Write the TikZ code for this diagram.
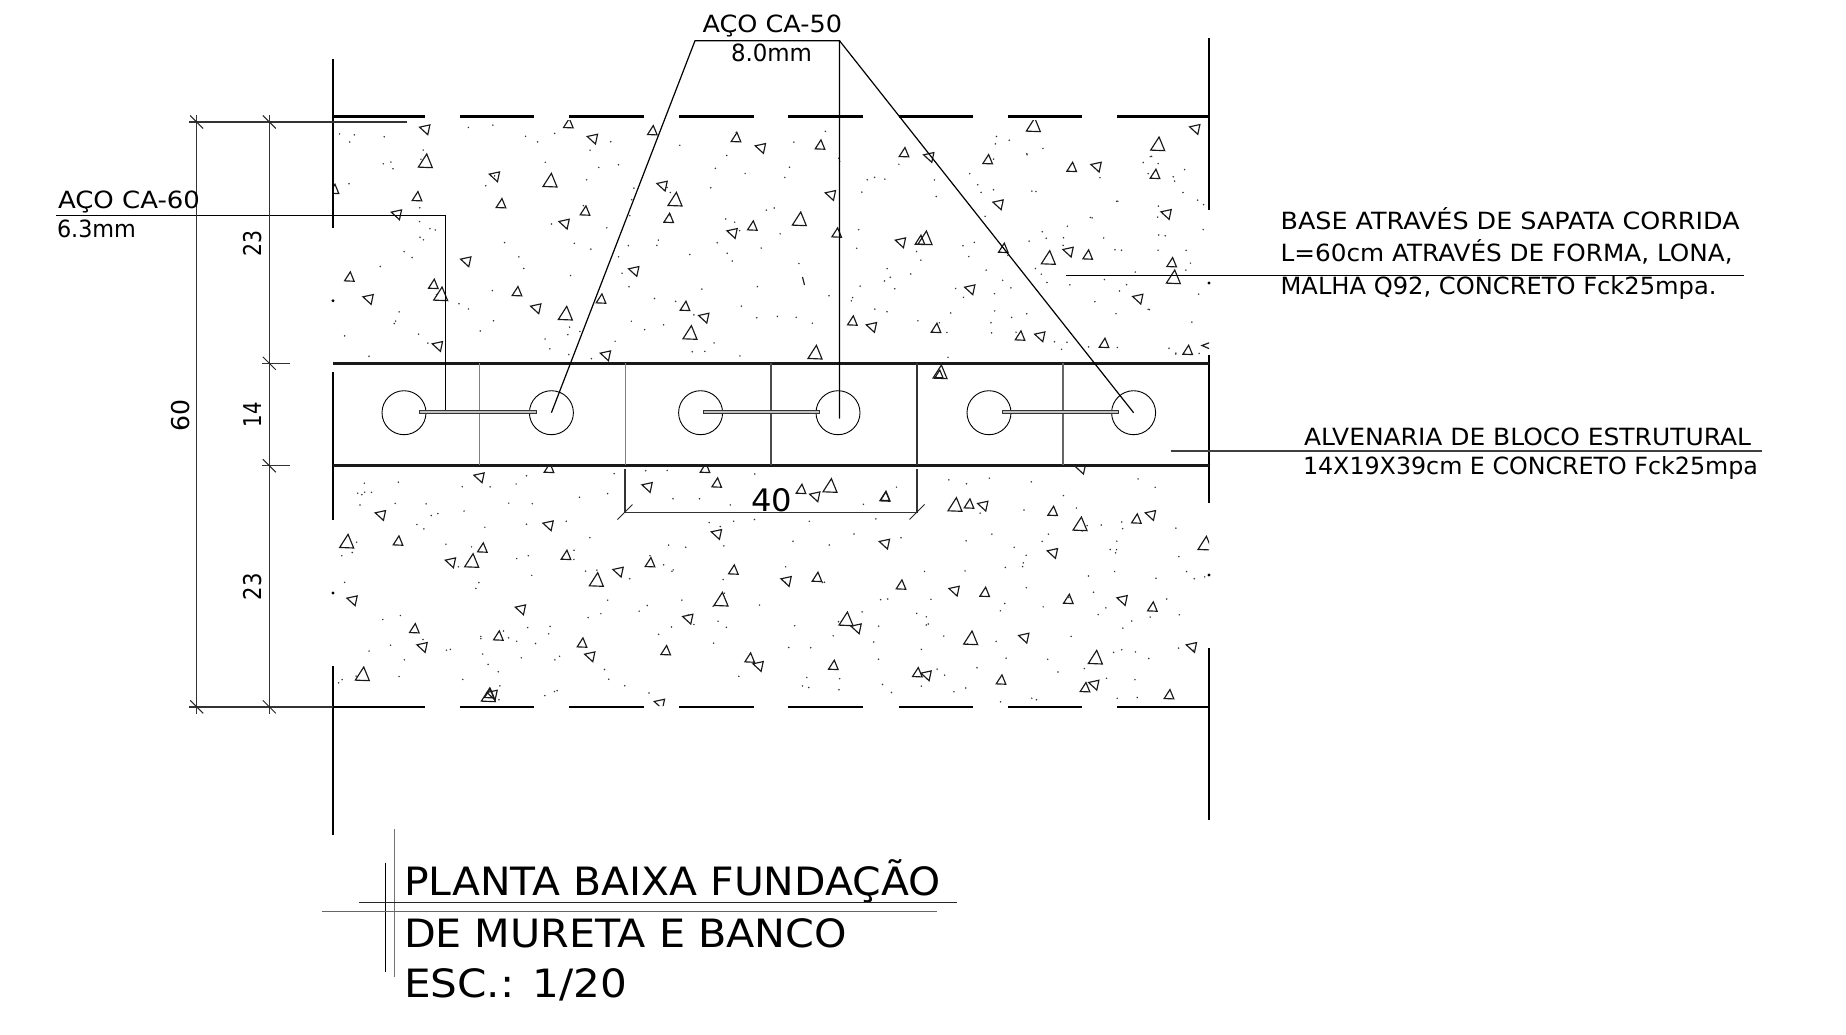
\documentclass[tikz,border=0pt]{standalone}
\usepackage{graphicx}
\usepackage{fontspec}
\setmainfont{DejaVu Sans}
\usetikzlibrary{calc}
\newsavebox\fitbox
\newcommand\fitt[3]{\sbox\fitbox{\fontsize{#2}{#2}\selectfont #3}\pgfmathsetmacro\fitxs{#1/(\the\wd\fitbox)}\scalebox{\fitxs}[1]{\usebox\fitbox}}
\tikzset{
  heavy/.style={line width=2.9pt,black},
  wallline/.style={line width=2.4pt,black!90},
  thin leader/.style={line width=1.2pt,black},
  dimline/.style={line width=1.3pt,black!80},
  ticks/.style={line width=1pt,black!85},
  tri/.style={line width=1.15pt,black!90,line join=miter},
  triU/.style={scale=1.2},
  triB/.style={scale=1.75},
  triL/.style={rotate=80,scale=1.25},
  lbl/.style={anchor=base west,inner sep=0pt,outer sep=0pt,black},
  rebar/.style={draw=black!80,fill=black!25,line width=.6pt,inner sep=0pt,minimum height=3pt,rectangle},
  bar/.style={circle,draw=black,line width=.9pt,inner sep=0pt,minimum size=44pt}
}
\begin{document}
\begin{tikzpicture}[x=1pt,y=-1pt]
\useasboundingbox[fill=white] (0,0) rectangle (1846,1034);

% concrete texture
\begin{scope}
\clip (333,120) rectangle (1209,362) (333,467) rectangle (1209,706);
\pgfmathsetseed{4711}
\foreach \i in {1,...,230}{
  \pgfmathsetmacro\dx{336+870*rnd}\pgfmathsetmacro\dy{125+234*rnd}
  \fill[black!80] (\dx,\dy) circle (.85pt);
  \pgfmathsetmacro\dx{336+870*rnd}\pgfmathsetmacro\dy{470+232*rnd}
  \fill[black!80] (\dx,\dy) circle (.85pt);
}
% upper left
\foreach \a/\b/\t in {313/87/triL,316/183/triB,291/289/triU,228/342/triL,42/267/triU,88/530/triU,143/596/triL,340/552/triU,362/582/triB,351/737/triL,436/483/triL,522/228/triL,543/310/triU,591/574/triU,646/624/triL,736/640/triB,690/241/triB,795/332/triU,731/370/triL,745/70/triU,816/115/triL,997/91/triU,1025/256/triL,1065/298/triB,1046/354/triU,940/512/triL,843/596/triU,855/765/triL,1095/618/triU,1150/652/triL,1110/698/triB}
  \draw[tri,shift={({320+\a/3},{100+\b/3})},\t] (-4,3.5)--(4,3.8)--(.8,-4)--cycle;
% upper right
\foreach \a/\b/\t in {48/112/triU,120/143/triL,300/134/triU,330/284/triL,238/357/triB,97/377/triU,35/398/triL,350/398/triU,285/757/triB,552/157/triU,625/170/triL,803/178/triU,940/75/triB,1055/201/triU,1127/199/triL,1313/132/triB,1423/86/triL,1305/222/triU,833/312/triL,1337/341/triL,540/426/triL,600/420/triU,615/414/triB,850/444/triU,985/473/triB,1043/454/triL,1103/464/triU,1355/487/triU,1360/531/triB,748/567/triL,1252/595/triL,397/662/triU,453/680/triL,648/684/triU,900/707/triU,958/708/triL,1152/729/triU,1403/750/triU}
  \draw[tri,shift={({720+\a/3},{100+\b/3})},\t] (-4,3.5)--(4,3.8)--(.8,-4)--cycle;
% lower left
\foreach \a/\b/\t in {180/104/triL,80/184/triB,234/182/triU,95/360/triL,283/445/triU,305/500/triL,127/582/triB,487/203/triU,455/242/triB,390/246/triL,600/387/triL,535/467/triU,508/640/triU,505/645/triB,515/643/triL,683/135/triL,738/225/triU,829/299/triB,893/274/triL,990/247/triU,786/488/triU,808/528/triL,1037/511/triU,1017/670/triL,1188/161/triL,1240/269/triU,1397/302/triL,1491/291/triU,1203/358/triB,1102/415/triL,1289/533/triU,1313/557/triL,1540/555/triU,980/20/triL,1190/8/triU,1443/27/triU,1483/48/triL,1530/17/triB}
  \draw[tri,shift={({320+\a/3},{480+\b/3})},\t] (-4,3.5)--(4,3.8)--(.8,-4)--cycle;
% lower right
\foreach \a/\b/\t in {135/110/triU,345/134/triB,387/131/triU,427/136/triL,638/153/triU,720/192/triB,889/176/triU,930/164/triL,1095/250/triB,132/250/triL,636/278/triL,183/374/triU,341/391/triL,434/396/triU,685/417/triU,845/419/triL,937/440/triU,18/477/triB,47/504/triL,392/534/triB,550/532/triL,1053/560/triL,766/592/triB,232/637/triU,257/645/triL,483/659/triU,735/682/triU,760/673/triL,987/703/triU,720/25/triL}
  \draw[tri,shift={({840+\a/3},{460+\b/3})},\t] (-4,3.5)--(4,3.8)--(.8,-4)--cycle;
% just under the wall
\foreach \x/\y/\t in {478.6/477/triL,705/468/triU,549/468/triU,885/496/triU}
  \draw[tri,shift={(\x,\y)},\t] (-4,3.5)--(4,3.8)--(.8,-4)--cycle;
\draw[tri] (1210,342.5)--(1202,345.5)--(1210,349);
\draw[tri] (802.5,277)--(804.5,285);
\end{scope}
% triangle caught inside the wall
\draw[tri,shift={(940,372)},triB] (-4,3.5)--(4,3.8)--(.8,-4)--cycle;
\draw[tri,shift={(939,374)}] (-4,3.5)--(4,3.8)--(.8,-4)--cycle;

% edge dots
\fill (1209,283) circle (1.6pt);
\fill (1209,575) circle (1.6pt);
\fill (333,300.7) circle (1.6pt);
\fill (333,593) circle (1.6pt);

% dashed lines of the footing
\foreach \s/\e in {333/425,460/534,569/644,679/754,788/863,899/973,1008/1082,1117/1209}{
  \draw[heavy,line width=2.7pt] (\s,116.3) -- (\e,116.3);
  \draw[heavy,line width=2.7pt] (\s,707) -- (\e,707);
}
% long vertical break lines
\draw[heavy] (333,59) -- (333,228);
\draw[heavy] (333,372) -- (333,520);
\draw[heavy] (333,666) -- (333,835);
\draw[heavy] (1209,38) -- (1209,210);
\draw[heavy] (1209,355) -- (1209,503);
\draw[heavy] (1209,648) -- (1209,820);

% wall
\draw[wallline] (333,363.3) -- (1209,363.3);
\draw[wallline] (333,465.3) -- (1209,465.3);
\draw[line width=1pt,black!50] (479.4,363) -- (479.4,465);
\draw[line width=1pt,black!50] (625,363) -- (625,465);
\draw[line width=1.3pt,black!70] (771,363) -- (771,465);
\draw[line width=1.5pt,black!80] (917,363) -- (917,465);
\draw[line width=1.2pt,black!60] (1063,363) -- (1063,465);

% bars
\node[bar] (c1) at (404,412.7) {};
\node[bar] (c2) at (551.4,412.7) {};
\node[bar] (c3) at (700.6,412.7) {};
\node[bar] (c4) at (838,412.7) {};
\node[bar] (c5) at (989,412.7) {};
\node[bar] (c6) at (1133.6,412.7) {};
\node[rebar,minimum width=116.6pt] (r1) at (477.7,411.5) {};
\node[rebar,minimum width=116pt] (r2) at (761,411.5) {};
\node[rebar,minimum width=116pt] (r3) at (1060,411.5) {};

% leaders
\coordinate (a60) at (56,215.7);
\coordinate (k60) at (445.6,215.7);
\draw[thin leader] (a60) -- (k60) -- (k60 |- r1.north);
\coordinate (a50) at (695,40.7);
\coordinate (b50) at (839.5,40.7);
\draw[thin leader] (c2.center) -- (a50) -- (b50) -- ($(b50 |- c4.center)+(0,6)$);
\draw[thin leader] (b50) -- (c6.center);
\coordinate (ba) at (1066,275.7);
\coordinate (bb) at (1743.5,275.7);
\draw[thin leader] (ba) -- (bb);
\coordinate (aa) at (1170.6,451);
\coordinate (ab) at (1761.5,451);
\draw[thin leader,black!75,line width=1.3pt] (aa) -- (ab);

% dimensions
\draw[dimline,line width=1.5pt] (196.7,115) -- (196.7,714);
\draw[dimline] (269.3,115) -- (269.3,714);
\draw[dimline] (189,122) -- (406.7,122);
\draw[dimline] (262,363.3) -- (290,363.3);
\draw[dimline] (262,465.7) -- (290,465.7);
\draw[dimline,line width=1.5pt] (189,706.8) -- (333,706.8);
\foreach \x/\y in {196.7/122,269.3/122,269.3/363.3,269.3/465.7,196.7/706.8,269.3/706.8}
  \draw[ticks] (\x-6.5,\y-6.5) -- (\x+6.5,\y+6.5);
\draw[dimline] (625,469) -- (625,512.7) -- (917,512.7) -- (917,469);
\foreach \x in {625,917}
  \draw[ticks] (\x-7.5,519.5) -- (\x+7.5,504.5);

% dimension texts
\node[lbl,rotate=90] (d23a) at (261,256) {\fitt{26}{24.5}{23}};
\node[lbl,rotate=90] (d14) at (261.5,427) {\fitt{25}{24.5}{14}};
\node[lbl,rotate=90] (d23b) at (261.5,600) {\fitt{27}{24.5}{23}};
\node[lbl,rotate=90] (d60) at (189,431) {\fitt{32}{24.5}{60}};
\node[lbl] (d40) at (751,511) {\fitt{41}{31}{40}};

% notes
\node[lbl] (n60a) at (58,208) {\fitt{142}{23.7}{AÇO CA-60}};
\node[lbl] (n60b) at (57,237.7) {\fitt{79}{23.7}{6.3mm}};
\node[lbl] (n50a) at (702.5,32) {\fitt{139.5}{23.7}{AÇO CA-50}};
\node[lbl] (n50b) at (731,61) {\fitt{81}{23.7}{8.0mm}};
\node[lbl] (nb1) at (1280.6,229) {\fitt{459}{23.7}{BASE ATRAVÉS DE SAPATA CORRIDA}};
\node[lbl] (nb2) at (1280.6,261.7) {\fitt{452}{23.7}{L=60cm ATRAVÉS DE FORMA, LONA,}};
\node[lbl] (nb3) at (1280.6,294) {\fitt{436}{23.7}{MALHA Q92, CONCRETO Fck25mpa.}};
\node[lbl] (na1) at (1304,445) {\fitt{447}{23.7}{ALVENARIA DE BLOCO ESTRUTURAL}};
\node[lbl] (na2) at (1303,474) {\fitt{455}{23.7}{14X19X39cm E CONCRETO Fck25mpa}};

% title
\node[lbl] (t1) at (404,895) {\fitt{536.5}{39}{PLANTA BAIXA FUNDAÇÃO}};
\node[lbl] (t2) at (404,947.7) {\fitt{443}{39}{DE MURETA E BANCO}};
\node[lbl] (t3) at (404,997) {\fitt{223}{39}{ESC.: 1/20}};
\draw[line width=1.1pt,black] (385.7,862.7) -- (385.7,971.7);
\draw[line width=1.1pt,black!55] (394.7,829) -- (394.7,977);
\draw[line width=1.2pt,black!85] (359,902.3) -- (957,902.3);
\draw[line width=1.3pt,black!60] (321.5,911.7) -- (936.5,911.7);
\end{tikzpicture}
\end{document}
